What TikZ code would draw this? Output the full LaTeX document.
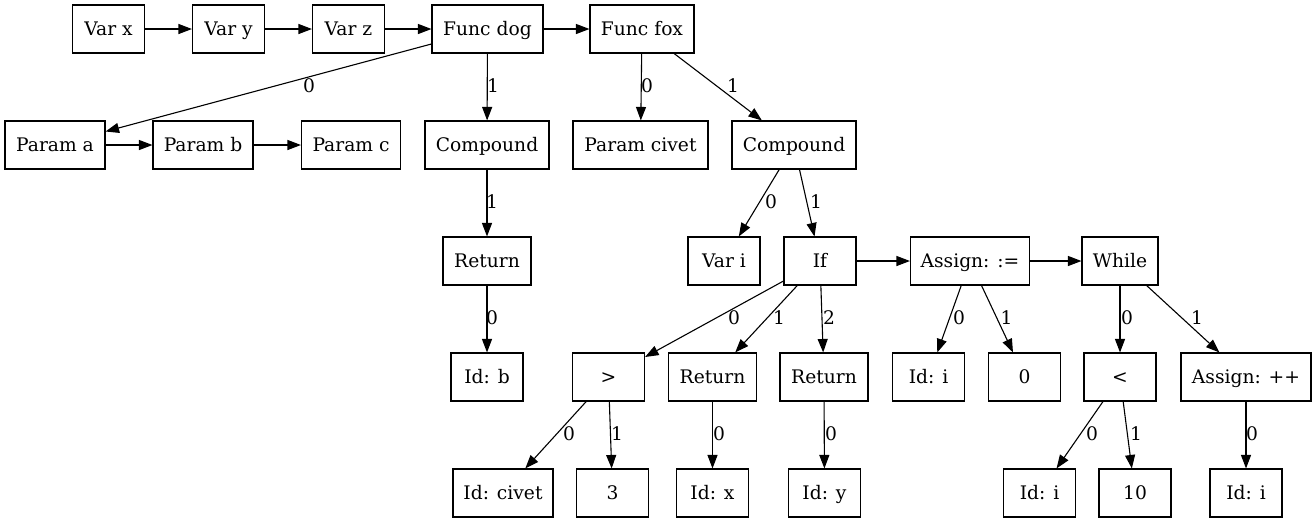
\documentclass[tikz,border=0pt]{standalone}
\usepackage{fontspec}
\setmainfont{DejaVu Serif}
\usetikzlibrary{arrows.meta}
\begin{document}
\begin{tikzpicture}[x=1pt,y=-1pt,
  box/.style={draw, line width=1.1pt, minimum height=48pt, minimum width=72pt, inner sep=0pt, text height=14.5pt, text depth=1.5pt, font=\fontsize{18.67}{22}\selectfont},
  conn/.style={draw, line width=1.1pt, -{Triangle[length=13.5pt,width=10pt]}},
  lbl/.style={inner sep=0pt, font=\fontsize{18.67}{22}\selectfont}]
\useasboundingbox (0,0) rectangle (1316,523);
% row 1
\node[box] (varx) at (108.5,29) {Var x};
\node[box] (vary) at (228.5,29) {Var y};
\node[box] (varz) at (348.5,29) {Var z};
\node[box, minimum width=111pt] (dog) at (487.5,29) {Func dog};
\node[box, minimum width=104pt] (fox) at (642,29) {Func fox};
% row 2
\node[box, minimum width=100pt] (pa) at (55,145) {Param a};
\node[box, minimum width=100pt] (pb) at (203,145) {Param b};
\node[box, minimum width=99pt] (pc) at (351,145) {Param c};
\node[box, minimum width=124pt] (compA) at (487,145) {Compound};
\node[box, minimum width=135pt] (pcivet) at (640.5,145) {Param civet};
\node[box, minimum width=124pt] (compB) at (794,145) {Compound};
% row 3
\node[box, minimum width=88pt] (retA) at (487,261) {Return};
\node[box] (vari) at (724,261) {Var i};
\node[box] (if) at (820,261) {If};
\node[box, minimum width=119pt] (assign) at (970,261) {Assign: :=};
\node[box, minimum width=76pt] (while) at (1120,261) {While};
% row 4
\node[box] (idb) at (487,377) {Id: b};
\node[box] (gt) at (608.5,377) {>};
\node[box, minimum width=88pt] (retB) at (712.5,377) {Return};
\node[box, minimum width=88pt] (retC) at (824,377) {Return};
\node[box] (idiA) at (928.5,377) {Id: i};
\node[box] (zero) at (1024.5,377) {0};
\node[box] (lt) at (1120,377) {<};
\node[box, minimum width=130pt] (inc) at (1246,377) {Assign: ++};
% row 5
\node[box, minimum width=100pt] (idcivet) at (503,493) {Id: civet};
\node[box] (three) at (612.5,493) {3};
\node[box] (idx) at (712.5,493) {Id: x};
\node[box] (idy) at (824.5,493) {Id: y};
\node[box] (idiB) at (1039.5,493) {Id: i};
\node[box] (ten) at (1135,493) {10};
\node[box] (idiC) at (1246,493) {Id: i};
% sibling chains
\draw[conn] (varx) -- (vary);
\draw[conn] (vary) -- (varz);
\draw[conn] (varz) -- (dog);
\draw[conn] (dog) -- (fox);
\draw[conn] (pa) -- (pb);
\draw[conn] (pb) -- (pc);
\draw[conn] (if) -- (assign);
\draw[conn] (assign) -- (while);
% child edges
\draw[conn] (dog) -- (pa);
\draw[conn] (dog) -- (compA);
\draw[conn] (fox) -- (pcivet);
\draw[conn] (fox) -- (compB);
\draw[conn] (compA) -- (retA);
\draw[conn] (retA) -- (idb);
\draw[conn] (compB) -- (vari);
\draw[conn] (compB) -- (if);
\draw[conn] (if) -- (gt);
\draw[conn] (if) -- (retB);
\draw[conn] (if) -- (retC);
\draw[conn] (assign) -- (idiA);
\draw[conn] (assign) -- (zero);
\draw[conn] (while) -- (lt);
\draw[conn] (while) -- (inc);
\draw[conn] (gt) -- (idcivet);
\draw[conn] (gt) -- (three);
\draw[conn] (retB) -- (idx);
\draw[conn] (retC) -- (idy);
\draw[conn] (lt) -- (idiB);
\draw[conn] (lt) -- (ten);
\draw[conn] (inc) -- (idiC);
% edge labels
\node[lbl] (l1) at (309,86) {0};
\node[lbl] (l2) at (493,86) {1};
\node[lbl] (l3) at (647,86) {0};
\node[lbl] (l4) at (733,86) {1};
\node[lbl] (l5) at (492,202) {1};
\node[lbl] (l6) at (771,202) {0};
\node[lbl] (l7) at (816,202) {1};
\node[lbl] (l8) at (492,318) {0};
\node[lbl] (l9) at (734,318) {0};
\node[lbl] (l10) at (779,318) {1};
\node[lbl] (l11) at (829,318) {2};
\node[lbl] (l12) at (959,318) {0};
\node[lbl] (l13) at (1006.5,318) {1};
\node[lbl] (l14) at (1127,318) {0};
\node[lbl] (l15) at (1197,318) {1};
\node[lbl] (l16) at (569,434) {0};
\node[lbl] (l17) at (617,434) {1};
\node[lbl] (l18) at (719,434) {0};
\node[lbl] (l19) at (831,434) {0};
\node[lbl] (l20) at (1092,434) {0};
\node[lbl] (l21) at (1136,434) {1};
\node[lbl] (l22) at (1252,434) {0};
\end{tikzpicture}
\end{document}
